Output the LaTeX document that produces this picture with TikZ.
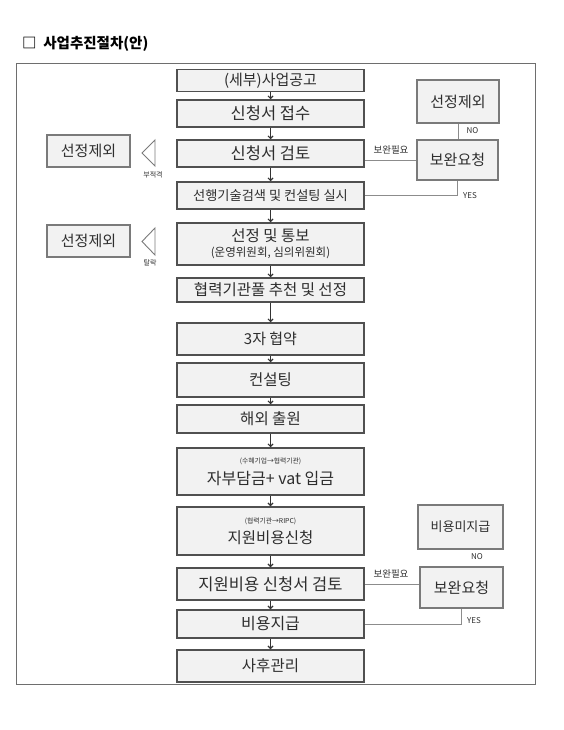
\documentclass[tikz,border=0pt]{standalone}
\usepackage{fontspec}
\setmainfont{Noto Sans CJK KR}
\usetikzlibrary{arrows.meta,calc}
\definecolor{boxfill}{HTML}{F2F2F2}
\definecolor{boxline}{HTML}{505050}
\definecolor{sideline}{HTML}{7A7A7A}
\definecolor{connline}{HTML}{8C8C8C}
\definecolor{txt}{HTML}{2E2E2E}
\definecolor{framecol}{HTML}{6E6E6E}
\newcommand{\fsz}[1]{\fontsize{#1}{#1}\selectfont}
\tikzset{
  mainbox/.style={draw=boxline, line width=1.5pt, fill=boxfill, minimum width=187pt,
    inner sep=0pt, align=center, text=txt},
  sidebox/.style={draw=sideline, line width=1.2pt, fill=boxfill, inner sep=0pt,
    align=center, text=txt},
  flowarrow/.style={draw=black!80, line width=1.1pt, -{Straight Barb[length=2.5pt,width=5pt]}},
  conn/.style={draw=connline, line width=0.8pt},
  smalllabel/.style={inner sep=0pt, text=txt},
  marker/.style={draw=sideline, line width=0.9pt, fill=white}
}
\begin{document}
\begin{tikzpicture}[x=1pt,y=-1pt]
\useasboundingbox (0,0) rectangle (564,730);
\fill[white] (0,0) rectangle (564,730);
% title
\node[anchor=west, inner sep=0pt, text=black] (title) at (22,44)
  {\fsz{14.5}\bfseries □\ \ 사업추진절차(안)};
% frame
\draw[framecol, line width=0.9pt] (16,63) rectangle (535,684);

% main column
\node[mainbox, minimum height=22pt] (b1) at (270.5,80.5) {\fsz{15}(세부)사업공고};
\node[mainbox, minimum height=27pt] (b2) at (270.5,113.5) {\fsz{16.5}신청서 접수};
\node[mainbox, minimum height=27pt] (b3) at (270.5,153.5) {\fsz{16.5}신청서 검토};
\node[mainbox, minimum height=27pt] (b4) at (270.5,195.5) {\fsz{13.2}선행기술검색 및 컨설팅 실시};
\node[mainbox, minimum height=42pt] (b5) at (270.5,244)
  {\fsz{15.5}선정 및 통보\\[3pt]\fsz{11.5}(운영위원회, 심의위원회)};
\node[mainbox, minimum height=24pt] (b6) at (270.5,290) {\fsz{15.5}협력기관풀 추천 및 선정};
\node[mainbox, minimum height=32pt] (b7) at (270.5,339) {\fsz{15}3자 협약};
\node[mainbox, minimum height=34pt] (b8) at (270.5,380) {\fsz{15.5}컨설팅};
\node[mainbox, minimum height=28pt] (b9) at (270.5,419) {\fsz{15.5}해외 출원};
\node[mainbox, minimum height=47pt] (b10) at (270.5,471.5)
  {\fsz{6.8}(수혜기업→협력기관)\\[5pt]\fsz{16}자부담금+ vat 입금};
\node[mainbox, minimum height=48pt] (b11) at (270.5,531)
  {\fsz{6.8}(협력기관→RIPC)\\[5pt]\fsz{15.5}지원비용신청};
\node[mainbox, minimum height=32pt] (b12) at (270.5,584) {\fsz{16.5}지원비용 신청서 검토};
\node[mainbox, minimum height=28pt] (b13) at (270.5,624) {\fsz{16}비용지급};
\node[mainbox, minimum height=32pt] (b14) at (270.5,666) {\fsz{15.5}사후관리};

\foreach \a/\b in {b1/b2,b2/b3,b3/b4,b4/b5,b5/b6,b6/b7,b7/b8,b8/b9,b9/b10,b10/b11,b11/b12,b12/b13,b13/b14}
  \draw[flowarrow] (\a) -- (\b);

% right side boxes (top)
\node[sidebox, minimum width=82pt, minimum height=43pt] (exR1) at (458,101.5) {\fsz{15}선정제외};
\node[sidebox, minimum width=81pt, minimum height=40pt] (req1) at (457.5,160) {\fsz{15}보완요청};
\draw[conn] (exR1.south) -- (exR1.south |- req1.north);
\node[smalllabel] (no1) at (472.5,131) {\fsz{8}NO};
\draw[conn] (req1.west) -- (req1.west -| b3.east);
\node[smalllabel] (need1) at (391,150) {\fsz{9.5}보완필요};
\draw[conn] (req1.south) |- (b4.east);
\node[smalllabel, anchor=west] (yes1) at (463,196) {\fsz{8}YES};

% right side boxes (bottom)
\node[sidebox, minimum width=85pt, minimum height=44pt] (exR2) at (460.5,527) {\fsz{13}비용미지급};
\node[sidebox, minimum width=83pt, minimum height=41pt] (req2) at (461.5,587.5) {\fsz{15}보완요청};
\node[smalllabel] (no2) at (477,557) {\fsz{8}NO};
\draw[conn] (b12.east) -- (b12.east -| req2.west);
\node[smalllabel] (need2) at (391,573.5) {\fsz{9.5}보완필요};
\draw[conn] (req2.south) |- (b13.east);
\node[smalllabel, anchor=west] (yes2) at (467,621) {\fsz{8}YES};

% left side boxes
\node[sidebox, minimum width=83pt, minimum height=32pt] (exL1) at (88.5,151) {\fsz{15}선정제외};
\node[sidebox, minimum width=83pt, minimum height=32pt] (exL2) at (88.5,241) {\fsz{15}선정제외};
\draw[marker] (155,140) -- (142,153) -- (155,166) -- cycle;
\draw[marker] (155,228) -- (142,241.5) -- (155,255) -- cycle;
\node[smalllabel] (rej1) at (153,175) {\fsz{7}부적격};
\node[smalllabel] (rej2) at (150,263) {\fsz{7}탈락};
\end{tikzpicture}
\end{document}
